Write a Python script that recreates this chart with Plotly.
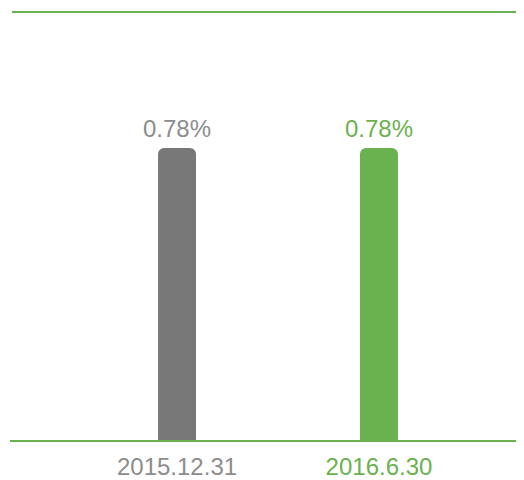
import plotly.graph_objects as go

categories = ["2015.12.31", "2016.6.30"]
values = [0.78, 0.78]
value_labels = ["0.78%", "0.78%"]

GREEN = "#6ab150"
GRAY_BAR = "#787878"
GRAY_TEXT = "#8c8c8c"
bar_colors = [GRAY_BAR, GREEN]
text_colors = [GRAY_TEXT, GREEN]

xpos = list(range(len(categories)))

fig = go.Figure()
fig.add_trace(go.Bar(
    x=xpos, y=values, width=0.188,
    marker=dict(color=bar_colors, cornerradius=6, line=dict(width=0)),
    hoverinfo="skip",
))

for i, (lab, v) in enumerate(zip(value_labels, values)):
    fig.add_annotation(x=xpos[i], y=v, xref="x", yref="y", text=lab,
                       showarrow=False, yanchor="bottom", yshift=4,
                       font=dict(size=24, color=text_colors[i], family="Liberation Sans, Arial"))

ticktext = [f"<span style='color:{c}'>{t}</span>" for t, c in zip(categories, text_colors)]

fig.update_layout(
    width=516, height=472,
    margin=dict(l=2, r=0, t=4, b=37),
    paper_bgcolor="white", plot_bgcolor="white",
    showlegend=False,
    font=dict(family="Liberation Sans, Arial"),
    xaxis=dict(range=[-0.827, 1.718], tickvals=xpos, ticktext=ticktext,
               showgrid=False, zeroline=False, showline=True, linecolor=GREEN, linewidth=2,
               tickfont=dict(size=24), ticks="", ticklabelstandoff=4),
    yaxis=dict(range=[0, 1.1435], showticklabels=False, showgrid=False, zeroline=False,
               showline=False),
)
fig.add_shape(type="line", xref="paper", yref="paper", x0=(12 - 10) / 514, x1=1, y0=1, y1=1,
              line=dict(color=GREEN, width=2))

fig.write_html("out.html")
